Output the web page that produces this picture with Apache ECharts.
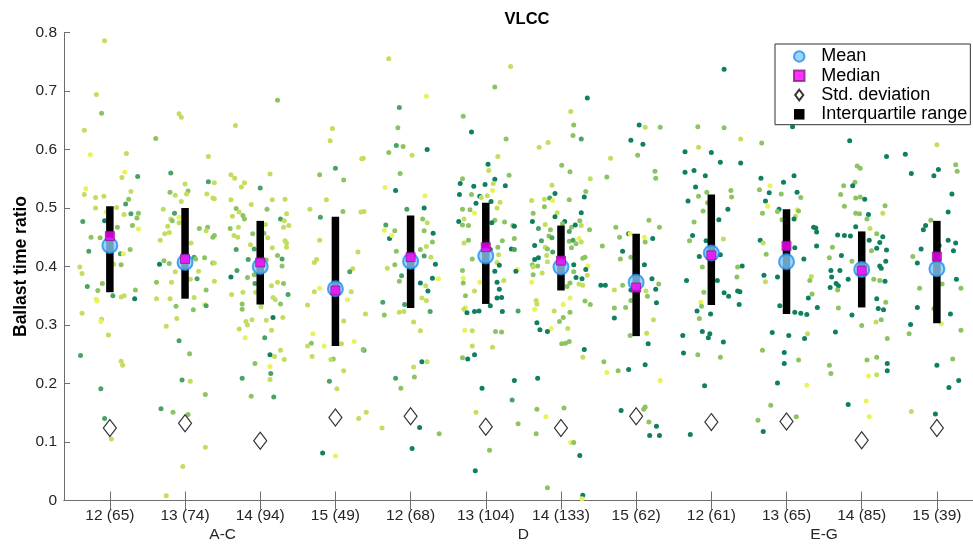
<!DOCTYPE html>
<html>
<head>
<meta charset="utf-8">
<title>VLCC ballast time ratio</title>
<script src="https://cdn.jsdelivr.net/npm/echarts@6/dist/echarts.min.js"></script>
<style>
  html, body { margin: 0; padding: 0; background: #fff; }
  #chart { width: 973px; height: 545px; }
</style>
</head>
<body>
<div id="chart"></div>
<script>
// Category tick labels: "<size class> (<sample count>)"
const tickLabels = ['12 (65)', '13 (74)', '14 (94)', '15 (49)', '12 (68)', '13 (104)',
  '14 (133)', '15 (62)', '12 (61)', '13 (65)', '14 (85)', '15 (39)'];
const groupLabels = ['A-C', 'D', 'E-G'];
const groupCenters = [2.5, 6.5, 10.5];

// Summary statistics per category
const means   = [0.436, 0.407, 0.400, 0.362, 0.409, 0.418, 0.399, 0.373, 0.423, 0.408, 0.395, 0.396];
const medians = [0.452, 0.413, 0.407, 0.359, 0.416, 0.433, 0.410, 0.364, 0.419, 0.435, 0.393, 0.417];
const stdDevs = [0.124, 0.132, 0.102, 0.142, 0.144, 0.126, 0.124, 0.144, 0.134, 0.135, 0.103, 0.124];
const q1      = [0.356, 0.345, 0.335, 0.264, 0.329, 0.336, 0.359, 0.281, 0.334, 0.319, 0.330, 0.303];
const q3      = [0.503, 0.500, 0.478, 0.485, 0.487, 0.509, 0.470, 0.456, 0.523, 0.498, 0.460, 0.478];

// Individual voyages: [jitter offset, ballast time ratio, colour level 0..4]
const pts1 = [[-0.07,0.786,3],[-0.18,0.694,3],[-0.11,0.662,2],[-0.34,0.633,3],[-0.26,0.591,4],[0.22,0.593,3],[0.20,0.561,4],[0.16,0.552,3],[0.37,0.554,1],[-0.32,0.533,4],[-0.34,0.523,3],[-0.19,0.518,3],[-0.08,0.520,3],[0.28,0.528,3],[0.25,0.515,2],[0.21,0.507,1],[-0.19,0.500,3],[0.09,0.501,3],[-0.05,0.493,4],[0.19,0.489,3],[0.28,0.490,1],[0.38,0.491,2],[0.36,0.483,2],[-0.36,0.477,1],[-0.07,0.478,0],[0.30,0.470,2],[0.38,0.464,4],[0.10,0.467,2],[-0.25,0.450,2],[-0.13,0.449,2],[-0.28,0.426,1],[0.14,0.422,1],[0.18,0.422,4],[0.27,0.429,2],[0.05,0.404,3],[0.15,0.403,2],[-0.40,0.399,3],[-0.37,0.388,3],[-0.10,0.371,2],[-0.30,0.366,1],[-0.16,0.359,2],[0.34,0.360,2],[0.04,0.350,1],[0.15,0.348,3],[0.19,0.350,3],[0.33,0.345,0],[-0.18,0.344,4],[-0.17,0.341,4],[-0.37,0.320,3],[-0.11,0.310,3],[-0.12,0.306,4],[-0.02,0.283,3],[-0.39,0.248,1],[0.15,0.238,3],[0.17,0.231,3],[-0.12,0.191,1],[-0.07,0.140,1],[0.02,0.105,3]];
const pts2 = [[-0.08,0.661,3],[-0.05,0.655,3],[-0.39,0.619,2],[0.31,0.588,3],[-0.19,0.560,1],[0,0.541,3],[0.04,0.529,2],[0.02,0.524,3],[0.31,0.545,1],[-0.20,0.527,2],[-0.13,0.522,3],[0.29,0.524,3],[0.37,0.517,3],[-0.05,0.511,3],[-0.29,0.498,3],[-0.14,0.491,1],[-0.08,0.484,4],[-0.19,0.481,3],[-0.17,0.478,2],[-0.08,0.475,3],[-0.23,0.469,3],[0.19,0.465,2],[0.30,0.467,2],[0.28,0.461,3],[-0.27,0.456,3],[-0.21,0.458,3],[0.37,0.450,2],[-0.33,0.445,3],[0.08,0.440,3],[0.12,0.416,1],[0.14,0.413,2],[0.26,0.415,2],[-0.28,0.410,2],[-0.21,0.405,2],[-0.34,0.404,0],[0.37,0.406,2],[0.18,0.392,3],[-0.13,0.391,3],[0.16,0.379,1],[0.07,0.378,3],[-0.38,0.373,2],[-0.18,0.373,3],[0.28,0.360,2],[-0.38,0.345,3],[-0.20,0.345,3],[0.12,0.347,3],[0.26,0.335,4],[0.28,0.333,1],[-0.12,0.332,2],[0.11,0.326,2],[-0.11,0.311,3],[-0.25,0.298,3],[-0.08,0.273,1],[0.06,0.251,2],[-0.04,0.206,1],[0.07,0.204,3],[0.27,0.181,2],[-0.32,0.157,1],[-0.16,0.151,2],[0.04,0.147,2],[0.27,0.091,3],[-0.03,0.058,3],[-0.25,0.008,3],[0.39,0.543,3],[0.39,0.516,3],[0.39,0.453,2],[0.39,0.406,3],[0.39,0.375,3]];
const pts3 = [[0.23,0.684,2],[-0.33,0.641,3],[-0.39,0.557,3],[-0.34,0.551,3],[0.13,0.558,3],[-0.21,0.543,3],[-0.25,0.536,3],[0,0.534,1],[-0.39,0.514,3],[0.16,0.514,3],[0.33,0.515,3],[-0.12,0.506,3],[0.09,0.498,2],[-0.32,0.499,2],[-0.28,0.493,3],[0.35,0.490,3],[-0.37,0.486,3],[-0.23,0.487,2],[-0.21,0.481,2],[0.27,0.481,1],[0.32,0.478,3],[0.07,0.472,3],[0.38,0.470,3],[-0.29,0.467,3],[-0.40,0.465,2],[0.31,0.467,3],[-0.10,0.456,2],[0.05,0.457,2],[-0.35,0.453,3],[-0.30,0.450,3],[0.10,0.449,3],[0.33,0.444,3],[0.35,0.440,3],[-0.13,0.437,3],[-0.08,0.430,1],[-0.32,0.429,1],[0.16,0.432,3],[0.35,0.433,3],[0.08,0.411,2],[-0.16,0.412,1],[0.23,0.419,2],[0.29,0.413,1],[0.29,0.401,2],[-0.31,0.393,1],[-0.39,0.382,0],[-0.17,0.381,2],[-0.08,0.386,2],[-0.07,0.371,1],[0.23,0.373,3],[0.31,0.371,2],[0.15,0.367,3],[0.37,0.352,1],[-0.38,0.352,3],[-0.23,0.356,3],[-0.06,0.356,3],[0.17,0.347,3],[0.20,0.343,3],[0.01,0.331,3],[-0.24,0.336,2],[-0.24,0.327,2],[0.27,0.336,2],[0.17,0.313,0],[0.30,0.313,3],[-0.11,0.309,3],[-0.19,0.306,3],[-0.17,0.300,3],[0.08,0.308,3],[-0.28,0.293,3],[0.15,0.291,3],[-0.20,0.278,4],[0.06,0.278,1],[0.27,0.257,3],[0.13,0.249,0],[0.19,0.246,3],[0.32,0.241,3],[-0.07,0.234,2],[0.13,0.229,4],[0.14,0.217,1],[0.13,0.207,3],[-0.24,0.209,1],[-0.12,0.178,2],[0.18,0.177,1]];
const pts4 = [[-0.04,0.636,3],[-0.07,0.615,3],[0.35,0.584,3],[0,0.568,1],[-0.21,0.557,2],[0.11,0.548,2],[-0.12,0.514,3],[-0.34,0.498,3],[0.10,0.494,2],[0.34,0.493,3],[-0.20,0.484,1],[-0.21,0.445,3],[0.30,0.425,3],[-0.25,0.412,3],[-0.28,0.407,3],[0.23,0.396,3],[0.19,0.391,1],[-0.21,0.363,4],[-0.28,0.357,3],[0.21,0.357,3],[0.16,0.343,4],[-0.37,0.334,3],[0.11,0.307,3],[-0.30,0.285,4],[-0.32,0.269,2],[-0.37,0.264,3],[-0.15,0.264,4],[0.08,0.268,3],[0.25,0.272,4],[-0.31,0.246,3],[-0.03,0.242,2],[-0.06,0.241,3],[0.11,0.222,3],[-0.08,0.204,1],[0.02,0.191,3],[0.31,0.140,3],[-0.17,0.081,0],[0,0.076,4],[0.37,0.585,3],[0.38,0.494,3],[0.40,0.319,3],[0.38,0.257,1],[0.41,0.151,3],[0.37,0.258,2]];
const pts5 = [[-0.29,0.755,3],[0.21,0.691,4],[-0.15,0.672,1],[-0.17,0.637,2],[-0.19,0.607,1],[-0.10,0.605,2],[-0.29,0.595,2],[0.02,0.590,3],[0.22,0.600,0],[-0.14,0.559,2],[-0.34,0.535,4],[-0.20,0.530,0],[0.19,0.521,4],[-0.05,0.498,1],[0.18,0.500,0],[0.16,0.481,2],[0.22,0.475,3],[-0.33,0.471,1],[-0.35,0.462,4],[-0.21,0.461,2],[-0.28,0.448,0],[-0.25,0.453,4],[0.18,0.461,2],[0.30,0.457,0],[0.29,0.442,2],[0.21,0.434,3],[-0.19,0.426,2],[0.13,0.429,2],[0.18,0.418,1],[0.27,0.416,3],[0.33,0.404,0],[-0.31,0.397,3],[-0.21,0.403,2],[-0.12,0.384,1],[0.29,0.380,0],[0.37,0.379,4],[-0.15,0.375,2],[0.13,0.372,0],[0.20,0.367,3],[0.23,0.358,0],[0.15,0.346,3],[0.21,0.342,3],[-0.37,0.339,1],[-0.08,0.335,1],[-0.35,0.317,2],[-0.15,0.322,3],[-0.09,0.323,3],[0.26,0.323,1],[0.04,0.305,3],[0.13,0.290,3],[0.15,0.237,0],[0.22,0.237,3],[0.04,0.228,3],[0.05,0.211,2],[-0.20,0.209,1],[-0.13,0.192,2],[-0.38,0.124,3],[0.12,0.125,0],[0.38,0.114,2],[0.02,0.089,0]];
const pts6 = [[0.33,0.742,3],[0.12,0.707,2],[-0.30,0.657,2],[-0.19,0.630,0],[0.27,0.618,2],[0.16,0.588,3],[0.03,0.575,0],[0.04,0.564,3],[0.31,0.556,2],[-0.31,0.550,2],[0.12,0.549,0],[-0.34,0.542,0],[-0.16,0.537,0],[-0.01,0.540,0],[0.10,0.542,3],[0.26,0.538,0],[0.09,0.530,4],[-0.19,0.523,2],[-0.35,0.523,0],[-0.08,0.520,0],[-0.06,0.518,3],[0.02,0.521,3],[0.07,0.511,0],[0.19,0.510,3],[-0.13,0.508,0],[-0.31,0.498,2],[-0.21,0.497,2],[0.15,0.500,3],[-0.15,0.491,4],[0.12,0.479,2],[0.08,0.475,0],[0.25,0.476,2],[-0.36,0.477,0],[-0.29,0.481,3],[-0.31,0.471,2],[-0.23,0.470,2],[0.36,0.470,2],[-0.29,0.440,3],[-0.23,0.445,2],[0.22,0.444,2],[0.16,0.433,2],[0.34,0.430,0],[0.06,0.429,0],[0.17,0.420,3],[-0.18,0.413,2],[0.15,0.407,3],[0.18,0.402,0],[0.12,0.392,0],[-0.31,0.393,2],[0.24,0.376,3],[-0.30,0.380,4],[-0.08,0.373,4],[0.15,0.373,0],[-0.30,0.372,2],[0.18,0.361,0],[-0.15,0.358,3],[-0.27,0.350,2],[0.21,0.347,0],[0.15,0.346,0],[0.06,0.333,0],[-0.27,0.330,4],[-0.29,0.327,3],[-0.25,0.321,0],[-0.15,0.323,0],[-0.09,0.324,0],[0.22,0.323,0],[-0.28,0.291,4],[-0.18,0.290,3],[0.13,0.289,2],[0.21,0.288,2],[-0.18,0.264,3],[0.09,0.262,3],[-0.31,0.244,2],[-0.24,0.242,0],[-0.15,0.249,0],[0.38,0.205,0],[-0.05,0.192,0],[0.35,0.172,1],[-0.13,0.151,3],[0.05,0.086,2],[-0.14,0.051,0],[0.38,0.469,0],[0.38,0.448,2],[0.38,0.429,1],[0.42,0.395,4],[0.40,0.392,0],[0.43,0.324,1],[0.43,0.131,2]];
const pts7 = [[0.35,0.688,0],[0.13,0.665,3],[0.17,0.642,2],[0.16,0.624,2],[0.27,0.618,1],[-0.17,0.612,3],[-0.29,0.604,3],[0.01,0.573,2],[0.12,0.562,2],[0.39,0.550,3],[-0.12,0.539,3],[-0.08,0.525,0],[0.33,0.528,2],[0.31,0.519,0],[-0.39,0.513,3],[-0.22,0.515,3],[-0.15,0.517,1],[-0.11,0.513,4],[0.11,0.514,2],[-0.22,0.502,2],[0.27,0.492,0],[-0.05,0.492,3],[-0.37,0.491,2],[-0.08,0.485,0],[0.05,0.477,0],[0.02,0.473,2],[0.25,0.478,2],[-0.38,0.477,0],[-0.21,0.472,3],[0.27,0.470,3],[0.14,0.467,2],[0.19,0.471,0],[-0.14,0.463,2],[-0.30,0.465,1],[0.38,0.463,2],[0.11,0.460,1],[-0.16,0.452,2],[-0.26,0.444,1],[-0.12,0.449,1],[0.24,0.448,4],[0.11,0.443,2],[0.16,0.445,1],[0.20,0.439,2],[-0.35,0.436,0],[-0.21,0.433,3],[-0.18,0.430,2],[0.14,0.432,2],[-0.11,0.425,1],[0.27,0.442,3],[-0.19,0.419,3],[0.32,0.416,2],[0.29,0.414,2],[-0.35,0.412,0],[-0.30,0.415,0],[-0.18,0.408,3],[0.17,0.403,0],[-0.38,0.403,2],[0.36,0.401,4],[-0.37,0.399,3],[-0.31,0.401,2],[-0.25,0.389,3],[0.33,0.395,0],[-0.37,0.386,2],[0.17,0.391,2],[0.35,0.385,3],[0.20,0.381,0],[0.28,0.379,0],[-0.39,0.373,4],[0.12,0.372,2],[0.08,0.366,2],[0.24,0.370,3],[0.29,0.368,3],[-0.33,0.342,3],[0.12,0.346,4],[-0.35,0.327,4],[-0.32,0.336,3],[0.32,0.341,2],[0.39,0.335,2],[0.03,0.335,4],[-0.09,0.324,3],[0.12,0.322,2],[0.03,0.313,2],[-0.32,0.304,0],[-0.02,0.306,2],[0.09,0.294,3],[-0.13,0.294,4],[-0.28,0.292,0],[-0.18,0.289,0],[0.11,0.272,2],[0.01,0.268,2],[0.06,0.269,2],[0.31,0.258,0],[0.29,0.245,3],[-0.31,0.209,0],[-0.32,0.156,2],[0.04,0.158,2],[-0.20,0.143,4],[-0.33,0.114,2],[0.13,0.099,4],[0.17,0.099,2],[0.25,0.077,0],[-0.18,0.022,2],[0.29,0.009,0],[0.28,0.003,4]];
const pts8 = [[0.12,0.638,3],[0.32,0.638,2],[0.04,0.642,0],[-0.07,0.616,0],[0.09,0.609,0],[0.02,0.590,2],[-0.34,0.585,3],[-0.39,0.553,2],[0.25,0.563,2],[0.26,0.551,2],[0.17,0.479,2],[0.31,0.467,2],[-0.27,0.467,2],[-0.10,0.456,0],[-0.08,0.456,4],[-0.22,0.450,2],[0.11,0.450,4],[0.22,0.448,0],[0.12,0.442,2],[-0.45,0.435,2],[-0.18,0.426,0],[-0.21,0.413,2],[-0.07,0.416,2],[0.11,0.403,0],[0.21,0.379,0],[0.30,0.370,2],[-0.47,0.368,0],[-0.41,0.368,0],[-0.18,0.368,2],[-0.29,0.360,3],[-0.07,0.360,0],[0.26,0.361,0],[0.13,0.358,3],[0.15,0.349,2],[-0.07,0.342,2],[0.27,0.338,0],[-0.29,0.329,2],[-0.14,0.330,2],[-0.29,0.312,0],[0.23,0.309,3],[-0.08,0.282,2],[0.14,0.286,3],[0.16,0.268,0],[-0.43,0.237,2],[-0.39,0.219,4],[-0.24,0.222,2],[-0.10,0.224,0],[0.12,0.232,0],[0.32,0.205,4],[-0.20,0.154,0],[0.10,0.156,2],[0.12,0.160,2],[0.17,0.134,2],[0.27,0.127,0],[0.18,0.111,0],[0.31,0.111,0]];
const pts9 = [[0.17,0.737,0],[-0.18,0.639,2],[0.17,0.637,2],[0.39,0.618,3],[-0.17,0.604,3],[-0.35,0.596,0],[0,0.595,0],[0.12,0.578,0],[0.39,0.577,0],[-0.35,0.561,0],[-0.23,0.564,0],[-0.08,0.555,0],[-0.21,0.536,0],[-0.06,0.527,2],[0.26,0.530,2],[-0.17,0.520,2],[0.27,0.519,2],[-0.31,0.512,0],[-0.05,0.509,2],[-0.11,0.495,2],[0.22,0.498,0],[0.10,0.480,0],[-0.23,0.476,2],[-0.25,0.453,0],[-0.29,0.444,2],[-0.07,0.444,0],[0.16,0.447,3],[-0.16,0.417,0],[0.12,0.420,0],[0.41,0.401,0],[0.35,0.399,2],[-0.12,0.399,2],[0.34,0.382,2],[-0.33,0.376,0],[0.08,0.376,0],[-0.10,0.356,2],[0.17,0.355,0],[0.23,0.349,0],[0.35,0.358,0],[0.38,0.357,0],[0.37,0.335,0],[-0.14,0.339,4],[-0.13,0.332,2],[-0.19,0.324,0],[-0.01,0.319,0],[-0.16,0.311,2],[-0.12,0.289,0],[-0.02,0.285,0],[-0.04,0.278,0],[-0.38,0.282,0],[0.16,0.271,0],[-0.37,0.252,0],[-0.18,0.249,2],[0.12,0.245,2],[-0.09,0.196,0],[-0.28,0.113,0]];
const pts10 = [[0.08,0.639,0],[-0.33,0.611,2],[-0.22,0.538,4],[-0.34,0.551,0],[-0.04,0.544,0],[0.10,0.555,0],[-0.36,0.531,2],[-0.23,0.526,0],[-0.07,0.524,2],[0.14,0.527,0],[0.19,0.518,2],[-0.28,0.512,0],[-0.25,0.503,4],[-0.10,0.498,0],[-0.12,0.494,2],[-0.32,0.491,2],[0.14,0.497,4],[0.16,0.495,2],[-0.06,0.480,2],[0.12,0.486,3],[0.10,0.481,0],[0.36,0.467,0],[-0.35,0.445,0],[-0.31,0.440,3],[0.11,0.432,0],[-0.27,0.421,2],[0.23,0.413,0],[-0.30,0.385,0],[-0.28,0.374,3],[-0.12,0.382,0],[0.33,0.383,3],[0.31,0.376,2],[0.34,0.353,2],[0.29,0.346,0],[-0.09,0.333,0],[0.11,0.322,0],[0.19,0.320,0],[0.27,0.318,0],[-0.19,0.287,0],[0.03,0.282,0],[0.28,0.285,3],[0.24,0.277,0],[-0.32,0.257,2],[-0.03,0.253,0],[-0.03,0.234,0],[0.16,0.240,2],[-0.12,0.201,0],[0.27,0.197,4],[-0.21,0.163,2],[-0.38,0.137,2],[0.13,0.143,2],[-0.31,0.118,0],[0.39,0.466,0],[0.40,0.459,0],[0.40,0.435,0],[0.41,0.330,0]];
const pts11 = [[-0.16,0.615,0],[0.33,0.588,0],[-0.06,0.572,2],[-0.02,0.568,2],[-0.24,0.538,2],[-0.09,0.544,2],[-0.12,0.538,0],[-0.28,0.523,2],[-0.08,0.517,2],[-0.02,0.519,2],[0.04,0.515,0],[0.31,0.504,2],[-0.23,0.503,2],[-0.08,0.491,2],[-0.03,0.490,2],[0.09,0.489,0],[0.28,0.491,3],[0.07,0.481,2],[-0.08,0.468,0],[0.11,0.465,3],[-0.32,0.454,0],[-0.23,0.453,0],[-0.15,0.452,0],[0.20,0.456,2],[0.28,0.451,0],[0.10,0.445,0],[0.24,0.441,0],[-0.39,0.433,2],[0.20,0.431,0],[0.13,0.427,2],[-0.27,0.419,0],[0.33,0.428,0],[0.32,0.409,0],[-0.43,0.415,2],[-0.13,0.409,2],[0.24,0.401,0],[0.26,0.397,0],[-0.41,0.393,0],[-0.29,0.393,0],[-0.40,0.382,0],[-0.18,0.378,0],[0.16,0.378,2],[0.24,0.376,2],[0.31,0.375,0],[-0.34,0.371,0],[-0.31,0.367,0],[-0.42,0.364,0],[-0.32,0.360,2],[0.20,0.345,0],[0.32,0.339,2],[-0.31,0.329,2],[0.22,0.328,0],[0.29,0.326,0],[-0.13,0.317,0],[0.26,0.309,2],[0.19,0.305,3],[0,0.299,2],[-0.35,0.288,0],[0.34,0.277,2],[0.07,0.240,2],[0.20,0.245,2],[0.34,0.234,0],[-0.43,0.231,2],[-0.41,0.217,2],[0.34,0.222,0],[0.09,0.213,4],[0.20,0.215,3],[-0.18,0.164,0],[0.06,0.170,4],[0.10,0.143,4]];
const pts12 = [[0,0.608,3],[-0.42,0.592,0],[0.25,0.574,2],[0.27,0.563,2],[0.02,0.566,0],[-0.04,0.555,0],[-0.34,0.559,0],[0.20,0.524,0],[0.15,0.493,0],[-0.08,0.479,2],[-0.15,0.470,0],[-0.18,0.463,0],[0.15,0.445,0],[0.25,0.440,0],[0.03,0.436,0],[-0.21,0.430,0],[-0.32,0.417,2],[0.22,0.427,0],[-0.26,0.406,0],[0.26,0.378,0],[0.07,0.370,2],[0.32,0.363,2],[-0.23,0.363,2],[-0.04,0.328,2],[-0.26,0.330,0],[0.18,0.319,0],[0.06,0.302,4],[-0.35,0.301,0],[-0.37,0.285,2],[0.32,0.291,2],[0.21,0.242,2],[0,0.231,0],[0.29,0.205,0],[0.16,0.193,0],[-0.34,0.152,3],[-0.02,0.148,0]];
const pointGroups = [pts1, pts2, pts3, pts4, pts5, pts6, pts7, pts8, pts9, pts10, pts11, pts12];

// Colour levels along a green-to-yellow ramp
const levelColors = ['#0e7f60', '#4aa264', '#8cc462', '#c2de5e', '#e9f25a'];

const FONT = '"Liberation Sans", Arial, Helvetica, sans-serif';
const TEXT = '#262626';
const AXIS = '#6e6e6e';
const X_MIN = 0.39, X_MAX = 12.6;
const catPositions = tickLabels.map((_, i) => i + 1);

// Legend glyphs drawn as paths so they keep their own proportions
const ICON_SQUARE = 'path://M0,0L10,0L10,10L0,10Z';
const ICON_DIAMOND = 'path://M5,0L10,6.5L5,13L0,6.5Z';

const scatterData = [];
pointGroups.forEach((grp, i) => {
  grp.forEach(p => scatterData.push([i + 1 + p[0], p[1], p[2]]));
});
const meanData = means.map((v, i) => [i + 1, v]);
const medianData = medians.map((v, i) => [i + 1, v]);
const stdData = stdDevs.map((v, i) => [i + 1, v]);
const iqrData = q1.map((v, i) => [i + 1, v, q3[i]]);

const chart = echarts.init(document.getElementById('chart'), null, { renderer: 'canvas' });

const baseX = {
  type: 'value', min: X_MIN, max: X_MAX,
  splitLine: { show: false },
  axisLine: { show: true, lineStyle: { color: AXIS, width: 1 } }
};

chart.setOption({
  animation: false,
  backgroundColor: '#fff',
  title: {
    text: 'VLCC', left: 522, top: 6, textAlign: 'center',
    textStyle: { fontFamily: FONT, fontSize: 16.5, fontWeight: 'bold', color: '#000' }
  },
  grid: { left: 64, top: 32.5, width: 918, height: 468, containLabel: false, outerBoundsMode: 'none' },
  legend: {
    orient: 'vertical', left: 775, top: 44,
    padding: [3, 3, 1, 18], itemWidth: 34, itemHeight: 10.5, itemGap: 0.5,
    backgroundColor: '#fff', borderColor: '#333', borderWidth: 1,
    textStyle: { fontFamily: FONT, fontSize: 18, lineHeight: 18.8, color: '#000' },
    data: [
      { name: 'Mean', icon: 'circle' },
      { name: 'Median', icon: ICON_SQUARE },
      { name: 'Std. deviation', icon: ICON_DIAMOND },
      { name: 'Interquartile range', icon: ICON_SQUARE }
    ]
  },
  xAxis: [
    Object.assign({}, baseX, {
      position: 'bottom',
      axisTick: { show: true, inside: true, length: 9, customValues: catPositions, lineStyle: { color: AXIS } },
      axisLabel: {
        customValues: catPositions, margin: 7,
        formatter: v => tickLabels[Math.round(v) - 1],
        fontFamily: FONT, fontSize: 15.5, color: TEXT
      }
    }),
    Object.assign({}, baseX, {
      position: 'top',
      axisTick: { show: true, inside: true, length: 9, customValues: catPositions, lineStyle: { color: AXIS } },
      axisLabel: { show: false }
    }),
    {
      type: 'value', min: X_MIN, max: X_MAX, position: 'bottom',
      splitLine: { show: false }, axisLine: { show: false }, axisTick: { show: false },
      axisLabel: {
        customValues: groupCenters, margin: 26,
        formatter: v => groupLabels[groupCenters.indexOf(v)],
        fontFamily: FONT, fontSize: 15.5, color: TEXT
      }
    }
  ],
  yAxis: [
    {
      type: 'value', min: 0, max: 0.8, interval: 0.1, position: 'left',
      name: 'Ballast time ratio', nameLocation: 'middle', nameGap: 34, nameMoveOverlap: false,
      nameTextStyle: { fontFamily: FONT, fontSize: 17.5, fontWeight: 'bold', color: '#000' },
      splitLine: { show: false },
      axisLine: { show: true, lineStyle: { color: AXIS } },
      axisTick: { show: true, inside: true, length: 6, lineStyle: { color: AXIS } },
      axisLabel: {
        margin: 7, fontFamily: FONT, fontSize: 15.5, color: TEXT,
        formatter: v => (v === 0 ? '0' : v.toFixed(1))
      }
    },
    {
      type: 'value', min: 0, max: 0.8, interval: 0.1, position: 'right',
      splitLine: { show: false },
      axisLine: { show: true, lineStyle: { color: AXIS } },
      axisTick: { show: true, inside: true, length: 6, lineStyle: { color: AXIS } },
      axisLabel: { show: false }
    }
  ],
  series: [
    {
      name: 'Voyages', type: 'scatter', data: scatterData,
      symbol: 'circle', symbolSize: 5, z: 1,
      itemStyle: { color: p => levelColors[p.data[2]], opacity: 1 },
      emphasis: { disabled: true }
    },
    {
      name: 'Interquartile range', type: 'custom', data: iqrData, z: 2,
      encode: { x: 0, y: [1, 2] },
      itemStyle: { color: '#000' },
      renderItem: (params, api) => {
        const top = api.coord([api.value(0), api.value(2)]);
        const bot = api.coord([api.value(0), api.value(1)]);
        const w = 7.5;
        return {
          type: 'rect',
          shape: { x: top[0] - w / 2, y: top[1], width: w, height: bot[1] - top[1] },
          style: { fill: '#000' }
        };
      }
    },
    {
      name: 'Std. deviation', type: 'scatter', data: stdData, z: 3,
      symbol: 'diamond', symbolSize: [13, 17],
      itemStyle: { color: '#fff', borderColor: '#000', borderWidth: 1.2 }
    },
    {
      name: 'Mean', type: 'scatter', data: meanData, z: 4,
      symbol: 'circle', symbolSize: 15,
      itemStyle: { color: '#87c9f7', borderColor: '#1e8ff5', borderWidth: 2 }
    },
    {
      name: 'Median', type: 'scatter', data: medianData, z: 5,
      symbol: 'rect', symbolSize: 9,
      itemStyle: { color: '#ff00ff', borderColor: '#8a1a8a', borderWidth: 1 }
    }
  ]
});
</script>
</body>
</html>
